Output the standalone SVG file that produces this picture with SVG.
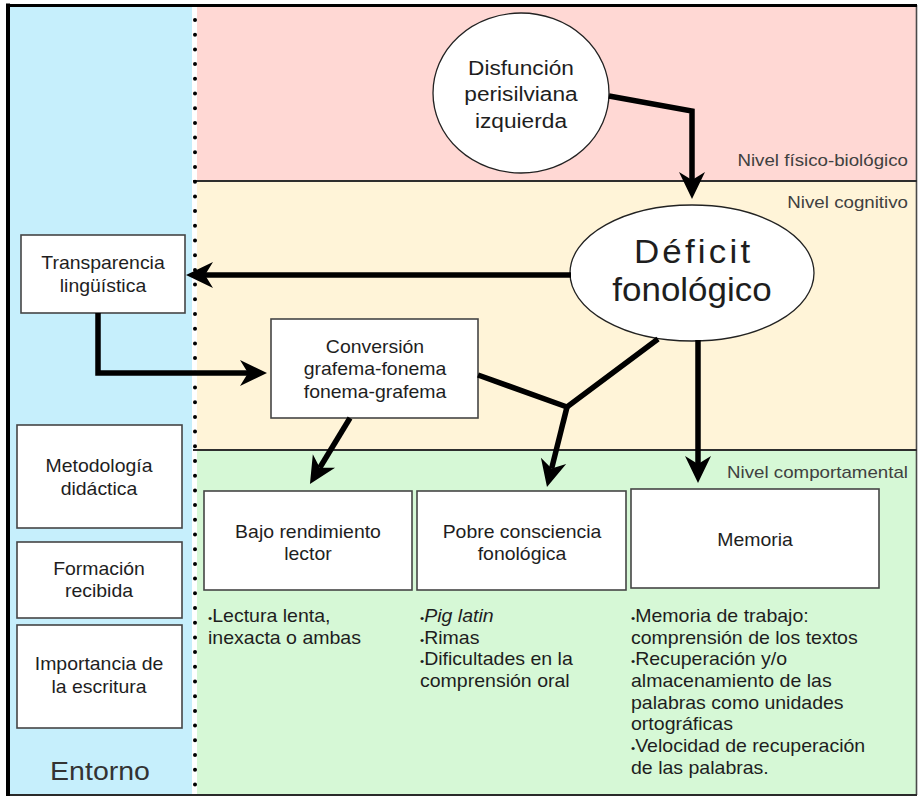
<svg xmlns="http://www.w3.org/2000/svg" width="919" height="797" viewBox="0 0 919 797">
  <style>
    .t { font-family: "Liberation Sans", Arial, Helvetica, sans-serif; fill: #1e1e1e; }
    .box { font-size: 18px; }
    .bul { font-size: 18px; }
    .lvl { font-size: 16px; fill: #404040; }
    .dot { font-size: 11px; }
    .node-rect { fill: #ffffff; stroke: #454545; stroke-width: 1.6; }
    .node-ell { fill: #ffffff; stroke: #222222; stroke-width: 1.3; }
    .conn { fill: none; stroke: #000000; stroke-width: 5.5; stroke-linejoin: miter; }
    .divider { stroke: #2e2e2e; stroke-width: 2; }
  </style>
  <defs>
    <marker id="ah" markerUnits="userSpaceOnUse" viewBox="-28 -15 30 30" markerWidth="30" markerHeight="30" refX="-19" refY="0" orient="auto">
      <path d="M0,0 L-27,-13 L-19,0 L-27,13 Z" fill="#000"/>
    </marker>
  </defs>

  <!-- level bands -->
  <rect x="10" y="7" width="182" height="788" fill="#c6effc"/>
  <rect x="192" y="7" width="5" height="788" fill="#ffffff"/>
  <rect x="197" y="7" width="720" height="174" fill="#ffd8d4"/>
  <rect x="197" y="181" width="720" height="269" fill="#fff4d8"/>
  <rect x="197" y="450" width="720" height="345" fill="#d6f8d6"/>

  <!-- frame -->
  <line x1="916.5" y1="5" x2="916.5" y2="795" stroke="#4a4a4a" stroke-width="1.6"/>
  <line x1="8" y1="795" x2="917" y2="795" stroke="#2a2a2a" stroke-width="2"/>
  <line x1="8" y1="3.5" x2="8" y2="796" stroke="#000" stroke-width="4"/>
  <line x1="6" y1="5.5" x2="917" y2="5.5" stroke="#000" stroke-width="3"/>

  <!-- band dividers -->
  <line class="divider" x1="193" y1="181" x2="917" y2="181"/>
  <line class="divider" x1="193" y1="450" x2="917" y2="450"/>
  <line x1="195" y1="20" x2="195" y2="790" stroke="#000" stroke-width="4" stroke-linecap="round" stroke-dasharray="0 14.7"/>

  <!-- level labels -->
  <text class="t lvl" text-anchor="end" transform="translate(908,166) scale(1.17,1)">Nivel físico-biológico</text>
  <text class="t lvl" text-anchor="end" transform="translate(908,208) scale(1.17,1)">Nivel cognitivo</text>
  <text class="t lvl" text-anchor="end" transform="translate(908,478) scale(1.17,1)">Nivel comportamental</text>
  <text class="t" style="font-size:25px;fill:#333" text-anchor="middle" transform="translate(100,780) scale(1.14,1)">Entorno</text>

  <!-- nodes -->
  <g id="disfuncion">
    <ellipse class="node-ell" cx="521" cy="93" rx="88" ry="80"/>
    <text class="t" style="font-size:21px" text-anchor="middle" transform="translate(521,75) scale(1.08,1)"><tspan x="0" y="0">Disfunción</tspan><tspan x="0" dy="26.5">perisilviana</tspan><tspan x="0" dy="26.5">izquierda</tspan></text>
  </g>

  <g id="deficit">
    <ellipse class="node-ell" cx="692" cy="273" rx="122" ry="68"/>
    <text class="t" style="font-size:33px" text-anchor="middle" transform="translate(692,263) scale(1.06,1)"><tspan x="1.5" y="0" letter-spacing="3">Déficit</tspan><tspan x="0" dy="38">fonológico</tspan></text>
  </g>

  <g id="transparencia">
    <rect class="node-rect" x="21" y="235" width="164" height="78"/>
    <text class="t box" text-anchor="middle" transform="translate(103,269) scale(1.08,1)"><tspan x="0" y="0">Transparencia</tspan><tspan x="0" dy="23">lingüística</tspan></text>
  </g>

  <g id="conversion">
    <rect class="node-rect" x="271" y="319" width="207" height="99"/>
    <text class="t box" text-anchor="middle" transform="translate(375,353) scale(1.08,1)"><tspan x="0" y="0">Conversión</tspan><tspan x="0" dy="22.5">grafema-fonema</tspan><tspan x="0" dy="22.5">fonema-grafema</tspan></text>
  </g>

  <g id="metodologia">
    <rect class="node-rect" x="17" y="425" width="165" height="103"/>
    <text class="t box" text-anchor="middle" transform="translate(99,472) scale(1.08,1)"><tspan x="0" y="0">Metodología</tspan><tspan x="0" dy="23">didáctica</tspan></text>
  </g>

  <g id="formacion">
    <rect class="node-rect" x="17" y="542" width="165" height="76"/>
    <text class="t box" text-anchor="middle" transform="translate(99,575) scale(1.08,1)"><tspan x="0" y="0">Formación</tspan><tspan x="0" dy="22">recibida</tspan></text>
  </g>

  <g id="importancia">
    <rect class="node-rect" x="17" y="625" width="165" height="103"/>
    <text class="t box" text-anchor="middle" transform="translate(99,670) scale(1.08,1)"><tspan x="0" y="0">Importancia de</tspan><tspan x="0" dy="23">la escritura</tspan></text>
  </g>

  <g id="bajo">
    <rect class="node-rect" x="204" y="491" width="208" height="99"/>
    <text class="t box" text-anchor="middle" transform="translate(308,538) scale(1.08,1)"><tspan x="0" y="0">Bajo rendimiento</tspan><tspan x="0" dy="22">lector</tspan></text>
  </g>

  <g id="pobre">
    <rect class="node-rect" x="417" y="491" width="209" height="99"/>
    <text class="t box" text-anchor="middle" transform="translate(522,538) scale(1.08,1)"><tspan x="0" y="0">Pobre consciencia</tspan><tspan x="0" dy="22">fonológica</tspan></text>
  </g>

  <g id="memoria">
    <rect class="node-rect" x="631" y="489" width="248" height="99"/>
    <text class="t box" text-anchor="middle" transform="translate(755,546) scale(1.08,1)">Memoria</text>
  </g>

  <!-- notes under the behavioural boxes -->
  <g id="notas-bajo">
    <text class="t bul" transform="translate(208,622) scale(1.085,1)"><tspan x="0" y="0"><tspan class="dot">•</tspan>Lectura lenta,</tspan><tspan x="0" dy="21.7">inexacta o ambas</tspan></text>
  </g>
  <g id="notas-pobre">
    <text class="t bul" transform="translate(420,622) scale(1.085,1)"><tspan x="0" y="0"><tspan class="dot">•</tspan><tspan font-style="italic">Pig latin</tspan></tspan><tspan x="0" dy="21.7"><tspan class="dot">•</tspan>Rimas</tspan><tspan x="0" dy="21.7"><tspan class="dot">•</tspan>Dificultades en la</tspan><tspan x="0" dy="21.7">comprensión oral</tspan></text>
  </g>
  <g id="notas-memoria">
    <text class="t bul" transform="translate(631,622) scale(1.085,1)"><tspan x="0" y="0"><tspan class="dot">•</tspan>Memoria de trabajo:</tspan><tspan x="0" dy="21.7">comprensión de los textos</tspan><tspan x="0" dy="21.7"><tspan class="dot">•</tspan>Recuperación y/o</tspan><tspan x="0" dy="21.7">almacenamiento de las</tspan><tspan x="0" dy="21.7">palabras como unidades</tspan><tspan x="0" dy="21.7">ortográficas</tspan><tspan x="0" dy="21.7"><tspan class="dot">•</tspan>Velocidad de recuperación</tspan><tspan x="0" dy="21.7">de las palabras.</tspan></text>
  </g>

  <!-- connectors -->
  <g id="connectors">
    <path class="conn" d="M609,96 L692,111 L692,180" marker-end="url(#ah)"/>
    <path class="conn" d="M571,275 L205,275" marker-end="url(#ah)"/>
    <path class="conn" d="M98,313 L98,373 L248,373" marker-end="url(#ah)"/>
    <path class="conn" d="M350,418 L319.8,467.8" marker-end="url(#ah)"/>
    <path class="conn" d="M478,375 L567,407 L658,339"/>
    <path class="conn" d="M567,407 L551.6,468.6" marker-end="url(#ah)"/>
    <path class="conn" d="M698,340 L698,464" marker-end="url(#ah)"/>
  </g>
</svg>
